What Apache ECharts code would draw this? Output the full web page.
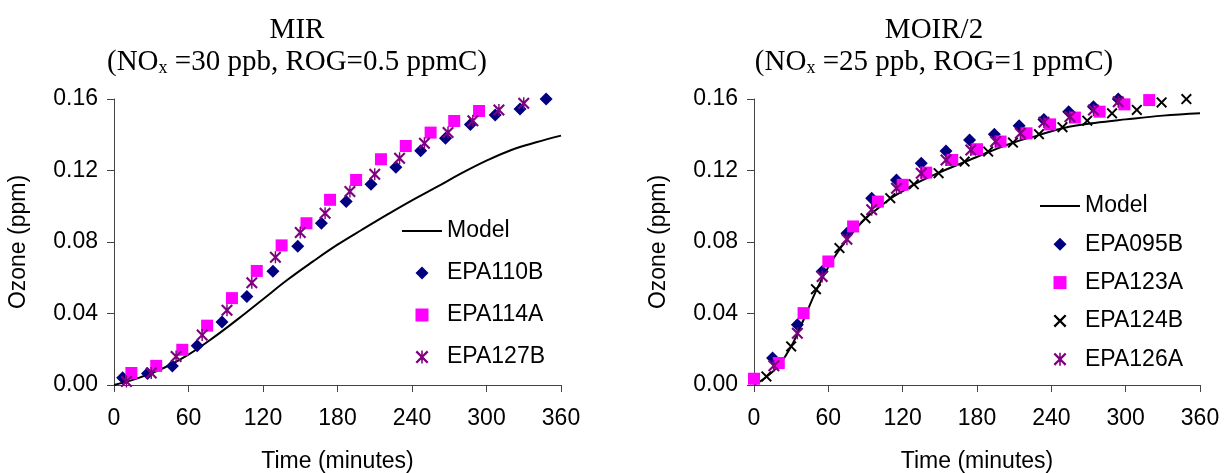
<!DOCTYPE html>
<html>
<head>
<meta charset="utf-8">
<script src="https://cdn.jsdelivr.net/npm/echarts@6/dist/echarts.min.js"></script>
<style>
html,body{margin:0;padding:0;background:#fff;}
#c{width:1225px;height:473px;}
</style>
</head>
<body>
<div id="c"></div>
<script>
// ---- Left chart (MIR) ----
const mirModelTime = [0,20,40,60,80,100,120,140,160,180,200,220,240,260,280,300,320,340,360];
const mirModelO3   = [0,0.004,0.0095,0.017,0.0265,0.037,0.048,0.059,0.069,0.0785,0.087,0.0953,0.1033,0.1108,0.1185,0.1255,0.1315,0.1358,0.1395];
const epa110bTime = [7,27,47,67,87,107,128,148,167,187,207,227,247,267,287,307,327,348];
const epa110bO3   = [0.004,0.0065,0.0106,0.022,0.0353,0.0495,0.0637,0.0776,0.0905,0.1026,0.1123,0.1218,0.1311,0.138,0.1458,0.151,0.1544,0.160];
const epa114aTime = [14,34,55,75,95,115,135,155,174,195,215,235,255,274,294];
const epa114aO3   = [0.0067,0.0107,0.0197,0.0332,0.0486,0.0638,0.0781,0.0905,0.1036,0.1147,0.1263,0.1337,0.1412,0.1477,0.1533];
const epa127bTime = [10,30,50,71,91,111,130,150,170,190,210,230,250,269,289,310,330];
const epa127bO3   = [0.002,0.0067,0.016,0.028,0.0418,0.0572,0.0715,0.0853,0.0961,0.1082,0.1179,0.1268,0.1352,0.1412,0.1479,0.1539,0.1576];

// ---- Right chart (MOIR/2) ----
const moirModelTime = [0,10,20,30,40,50,60,70,80,90,100,110,120,130,150,170,190,210,230,250,275,300,330,360];
const moirModelO3   = [0,0.0045,0.011,0.0215,0.0365,0.0525,0.066,0.0768,0.0855,0.0932,0.0988,0.1042,0.1084,0.1125,0.119,0.1248,0.1305,0.1358,0.1398,0.1438,0.1466,0.1486,0.1507,0.152];
const epa095bTime = [15,35,55,75,95,115,135,155,174,194,214,234,254,274,294];
const epa095bO3   = [0.0151,0.0337,0.0635,0.0849,0.1045,0.1147,0.124,0.1309,0.1371,0.1403,0.1451,0.1486,0.1529,0.1557,0.160];
const epa123aTime = [0,20,40,60,80,100,120,139,160,180,199,220,239,259,279,299,319];
const epa123aO3   = [0.0035,0.0123,0.0402,0.0691,0.0887,0.1026,0.112,0.1188,0.1259,0.1319,0.1362,0.1408,0.1458,0.1496,0.1529,0.157,0.1594];
const epa124bTime = [10,30,50,69,90,110,129,149,170,189,209,230,249,269,289,309,329,349];
const epa124bO3   = [0.0048,0.0216,0.0536,0.0766,0.0933,0.1045,0.1123,0.1185,0.125,0.1306,0.1356,0.1403,0.1442,0.1479,0.152,0.1539,0.1581,0.160];
const epa126aTime = [16,35,55,75,95,115,135,155,175,195,215,234,255,274,294];
const epa126aO3   = [0.0108,0.029,0.0607,0.0816,0.098,0.1101,0.1185,0.1259,0.1315,0.1362,0.1408,0.147,0.1501,0.1539,0.1585];

const timeTicks = {min:0, max:360, interval:60};
const ozoneTicks = {min:0, max:0.16, interval:0.04};

const pair = (xs, ys) => xs.map((x, i) => [x, ys[i]]);

const X_PATH = 'path://M0,2.5 L2.5,0 L10,7.5 L17.5,0 L20,2.5 L12.5,10 L20,17.5 L17.5,20 L10,12.5 L2.5,20 L0,17.5 L7.5,10 Z';
const STAR_PATH = 'path://M0,2.5 L2.5,0 L10,7.5 L17.5,0 L20,2.5 L12.5,10 L20,17.5 L17.5,20 L10,12.5 L2.5,20 L0,17.5 L7.5,10 Z M8.8,0 L11.2,0 L11.2,20 L8.8,20 Z';
const DIAMOND_PATH = 'path://M10,0 L20,10 L10,20 L0,10 Z';
const SQUARE_PATH = 'path://M0,0 L20,0 L20,20 L0,20 Z';
const LINE_PATH = 'path://M0,0 L40,0 L40,2 L0,2 Z';

const SANS = 'Liberation Sans, Arial, sans-serif';
const SERIF = 'Liberation Serif, Times New Roman, serif';

function xAxisCfg(gi){
  return {
    gridIndex: gi, type:'value', min:timeTicks.min, max:timeTicks.max, interval:timeTicks.interval,
    name:'Time (minutes)', nameLocation:'middle', nameGap:65,
    nameTextStyle:{fontFamily:SANS, fontSize:23, color:'#000'},
    axisLine:{show:true, lineStyle:{color:'#444', width:1}},
    axisTick:{show:true, length:7, lineStyle:{color:'#444'}},
    axisLabel:{fontFamily:SANS, fontSize:23, color:'#000', margin:22},
    splitLine:{show:false}
  };
}
function yAxisCfg(gi){
  return {
    gridIndex: gi, type:'value', min:ozoneTicks.min, max:ozoneTicks.max, interval:ozoneTicks.interval,
    name:'Ozone (ppm)', nameLocation:'middle', nameGap:84,
    nameTextStyle:{fontFamily:SANS, fontSize:23, color:'#000'},
    axisLine:{show:true, lineStyle:{color:'#444', width:1}},
    axisTick:{show:true, length:7, lineStyle:{color:'#444'}},
    axisLabel:{fontFamily:SANS, fontSize:23, color:'#000', margin:16, formatter:v => v.toFixed(2)},
    splitLine:{show:false}
  };
}
function model(gi, data){
  return {name:'Model', type:'line', xAxisIndex:gi, yAxisIndex:gi, data:data, smooth:0.4,
    symbol:'none', lineStyle:{color:'#000', width:2}, itemStyle:{color:'#000'}, z:2};
}
function scat(gi, name, data, symbol, size, color){
  return {name:name, type:'scatter', xAxisIndex:gi, yAxisIndex:gi, data:data, symbol:symbol,
    symbolSize:size, symbolKeepAspect:true, itemStyle:{color:color, opacity:1}, z:3};
}
const titleStyle = {
  fontFamily:SERIF, fontSize:29, fontWeight:'normal', color:'#000', lineHeight:32,
  rich:{ s:{fontFamily:SERIF, fontSize:18, lineHeight:18, padding:[12,0,0,0], color:'#000'} }
};
const legendText = {fontFamily:SANS, fontSize:23, color:'#000', lineHeight:24};
function legendCfg(left, top, gap, items){
  return {left:left, top:top, orient:'vertical', itemWidth:40, itemHeight:13, itemGap:gap,
    symbolKeepAspect:true, textStyle:legendText, selectedMode:false, data:items};
}

const chart = echarts.init(document.getElementById('c'), null, {renderer:'canvas'});
chart.setOption({
  backgroundColor:'#fff',
  animation:false,
  title:[
    {text:'MIR\n(NO{s|x} =30 ppb, ROG=0.5 ppmC)', left:292, top:9, textAlign:'center', textStyle:titleStyle},
    {text:'MOIR/2\n(NO{s|x} =25 ppb, ROG=1 ppmC)', left:929, top:9, textAlign:'center', textStyle:titleStyle}
  ],
  grid:[
    {left:114, top:99, width:447, height:286, containLabel:false, outerBoundsMode:'none'},
    {left:754, top:99, width:446, height:286, containLabel:false, outerBoundsMode:'none'}
  ],
  xAxis:[xAxisCfg(0), xAxisCfg(1)],
  yAxis:[yAxisCfg(0), yAxisCfg(1)],
  legend:[
    legendCfg(397, 214, 18, [
      {name:'Model', icon:LINE_PATH, itemStyle:{color:'#000'}},
      {name:'EPA110B', icon:DIAMOND_PATH},
      {name:'EPA114A', icon:SQUARE_PATH},
      {name:'EPA127B', icon:STAR_PATH}
    ]),
    legendCfg(1035, 189, 14.3, [
      {name:'Model', icon:LINE_PATH, itemStyle:{color:'#000'}},
      {name:'EPA095B', icon:DIAMOND_PATH},
      {name:'EPA123A', icon:SQUARE_PATH},
      {name:'EPA124B', icon:X_PATH},
      {name:'EPA126A', icon:STAR_PATH}
    ])
  ],
  series:[
    model(0, pair(mirModelTime, mirModelO3)),
    scat(0, 'EPA110B', pair(epa110bTime, epa110bO3), 'diamond', 13, '#000080'),
    scat(0, 'EPA114A', pair(epa114aTime, epa114aO3), 'rect', 12, '#FF00FF'),
    scat(0, 'EPA127B', pair(epa127bTime, epa127bO3), STAR_PATH, 12, '#800080'),
    model(1, pair(moirModelTime, moirModelO3)),
    scat(1, 'EPA095B', pair(epa095bTime, epa095bO3), 'diamond', 13, '#000080'),
    scat(1, 'EPA123A', pair(epa123aTime, epa123aO3), 'rect', 12, '#FF00FF'),
    scat(1, 'EPA124B', pair(epa124bTime, epa124bO3), X_PATH, 11, '#000000'),
    scat(1, 'EPA126A', pair(epa126aTime, epa126aO3), STAR_PATH, 12, '#800080')
  ]
});
</script>
</body>
</html>
